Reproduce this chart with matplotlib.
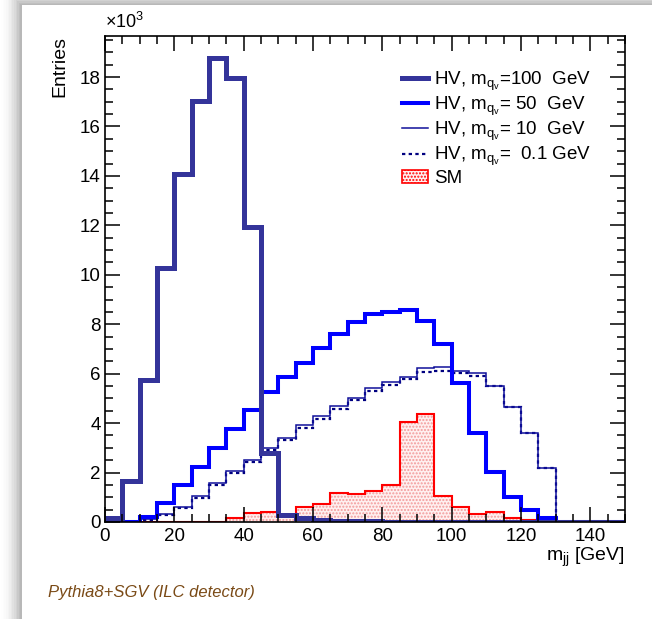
import matplotlib
matplotlib.use('Agg')
import matplotlib.pyplot as plt
import numpy as np
from matplotlib.lines import Line2D
from matplotlib.patches import Rectangle, Patch
from matplotlib.ticker import MultipleLocator

plt.rcParams['font.family'] = ['Liberation Sans', 'DejaVu Sans']
plt.rcParams['mathtext.fontset'] = 'custom'
plt.rcParams['mathtext.rm'] = 'Liberation Sans'
plt.rcParams['mathtext.it'] = 'Liberation Sans:italic'
plt.rcParams['mathtext.bf'] = 'Liberation Sans:bold'

# bins de 5 GeV, de 0 a 150 ; valeurs en unités de 10^3
bords = np.arange(0, 155, 5)
hv100 = [0.15, 1.65, 5.74, 10.27, 14.08, 17.04, 18.76, 17.98, 11.95, 2.79,
         0.30, 0.15, 0.08, 0.05, 0.04, 0.03, 0.02, 0.02, 0.02, 0.01,
         0.01, 0.01, 0.01, 0.01, 0.0, 0.0, 0.0, 0.0, 0.0, 0.0]
hv50 = [0.0, 0.0, 0.20, 0.77, 1.50, 2.23, 3.00, 3.78, 4.53, 5.24,
        5.85, 6.43, 7.04, 7.60, 8.10, 8.40, 8.50, 8.56, 8.15, 7.20,
        5.63, 3.60, 2.03, 1.02, 0.49, 0.17, 0.0, 0.0, 0.0, 0.0]
hv10 = [0.0, 0.0, 0.12, 0.32, 0.60, 1.05, 1.56, 2.06, 2.50, 3.00,
        3.40, 3.92, 4.29, 4.69, 5.02, 5.42, 5.66, 5.87, 6.22, 6.26,
        6.12, 6.02, 5.50, 4.65, 3.60, 2.18, 0.0, 0.0, 0.0, 0.0]
hv01 = [0.0, 0.0, 0.10, 0.28, 0.55, 0.98, 1.48, 1.98, 2.42, 2.92,
        3.30, 3.80, 4.18, 4.58, 4.92, 5.30, 5.55, 5.78, 6.05, 6.12,
        6.02, 5.90, 5.50, 4.65, 3.60, 2.18, 0.0, 0.0, 0.0, 0.0]
sm = [0.02, 0.02, 0.02, 0.02, 0.02, 0.02, 0.02, 0.16, 0.36, 0.40,
      0.24, 0.60, 0.73, 1.17, 1.13, 1.27, 1.50, 4.04, 4.37, 1.05,
      0.61, 0.32, 0.40, 0.16, 0.08, 0.02, 0.02, 0.02, 0.02, 0.02]

legendes = ['HV, m$_{\\mathrm{q_v}}$=100  GeV',
            'HV, m$_{\\mathrm{q_v}}$= 50  GeV',
            'HV, m$_{\\mathrm{q_v}}$= 10  GeV',
            'HV, m$_{\\mathrm{q_v}}$=  0.1 GeV',
            'SM']

c100 = '#34349a'
c50 = '#0000ff'
c10 = '#10109a'
c01 = '#000080'
rouge = '#ff0000'

fig = plt.figure(figsize=(6.52, 6.19), dpi=100)
fig.patch.set_facecolor('white')

# ombre du cadre (à gauche et en haut)
for i in range(14):
    a = 0.045 * (14 - i) / 14
    fig.patches.append(Rectangle(((22 - 1.6 * i) / 652, 0), 1, (614 + 1.2 * i) / 619,
                                 transform=fig.transFigure, facecolor='black',
                                 alpha=a, edgecolor='none', zorder=-5))
fig.patches.append(Rectangle((22 / 652, 0), 1, 614 / 619, transform=fig.transFigure,
                             facecolor='white', edgecolor='none', zorder=-4))

ax = fig.add_axes([105 / 652, 1 - 522 / 619, 520 / 652, 486 / 619])
ax.set_zorder(2)
ax.set_facecolor('white')

ax.stairs(sm, bords, baseline=0, fill=True, facecolor='#fff0f0',
          edgecolor='#f29a9a', hatch='.....', linewidth=0)
ax.stairs(sm, bords, baseline=0, color=rouge, linewidth=1.5)
ax.stairs(hv01, bords, baseline=None, color=c01, linewidth=1.6, linestyle=(0, (1.5, 1.5)))
ax.stairs(hv10, bords, baseline=None, color=c10, linewidth=1.1)
ax.stairs(hv50, bords, baseline=None, color=c50, linewidth=2.9)
ax.stairs(hv100, bords, baseline=None, color=c100, linewidth=3.6)

ax.set_xlim(0, 150)
ax.set_ylim(0, 19.66)

ax.xaxis.set_major_locator(MultipleLocator(20))
ax.xaxis.set_minor_locator(MultipleLocator(5))
ax.yaxis.set_major_locator(MultipleLocator(2))
ax.yaxis.set_minor_locator(MultipleLocator(0.5))
ax.tick_params(which='both', direction='in', top=True, right=True, labelsize=13.5,
               width=1.1, colors='black')
ax.tick_params(which='major', length=11)
ax.tick_params(which='minor', length=5.5)
ax.tick_params(axis='x', pad=4)
ax.tick_params(axis='y', pad=3)
for s in ax.spines.values():
    s.set_linewidth(1.2)

ax.set_xlabel('m$_{\\mathrm{jj}}$ [GeV]', loc='right', fontsize=14, labelpad=1)
ax.set_ylabel('Entries', loc='top', fontsize=14, labelpad=8)
ax.text(0, 1.008, '$\\times$10$^{3}$', transform=ax.transAxes, fontsize=13,
        ha='left', va='bottom')

poignees = [Line2D([], [], color=c100, linewidth=3.6),
            Line2D([], [], color=c50, linewidth=2.9),
            Line2D([], [], color=c10, linewidth=1.1),
            Line2D([], [], color=c01, linewidth=1.6, linestyle=(0, (1.5, 1.5))),
            Patch(facecolor='#fff0f0', edgecolor=rouge, hatch='.....', linewidth=1.2)]
leg = ax.legend(poignees, legendes, loc='upper left', bbox_to_anchor=(0.553, 0.95),
                frameon=False, fontsize=13.5, handlelength=1.4, handletextpad=0.3,
                labelspacing=0.1, borderpad=0.0)

fig.text(48 / 652, 1 - 592 / 619, 'Pythia8+SGV (ILC detector)', fontsize=12,
         style='italic', color='#7a4a16', ha='left', va='center')

fig.savefig('out.png', dpi=100)
